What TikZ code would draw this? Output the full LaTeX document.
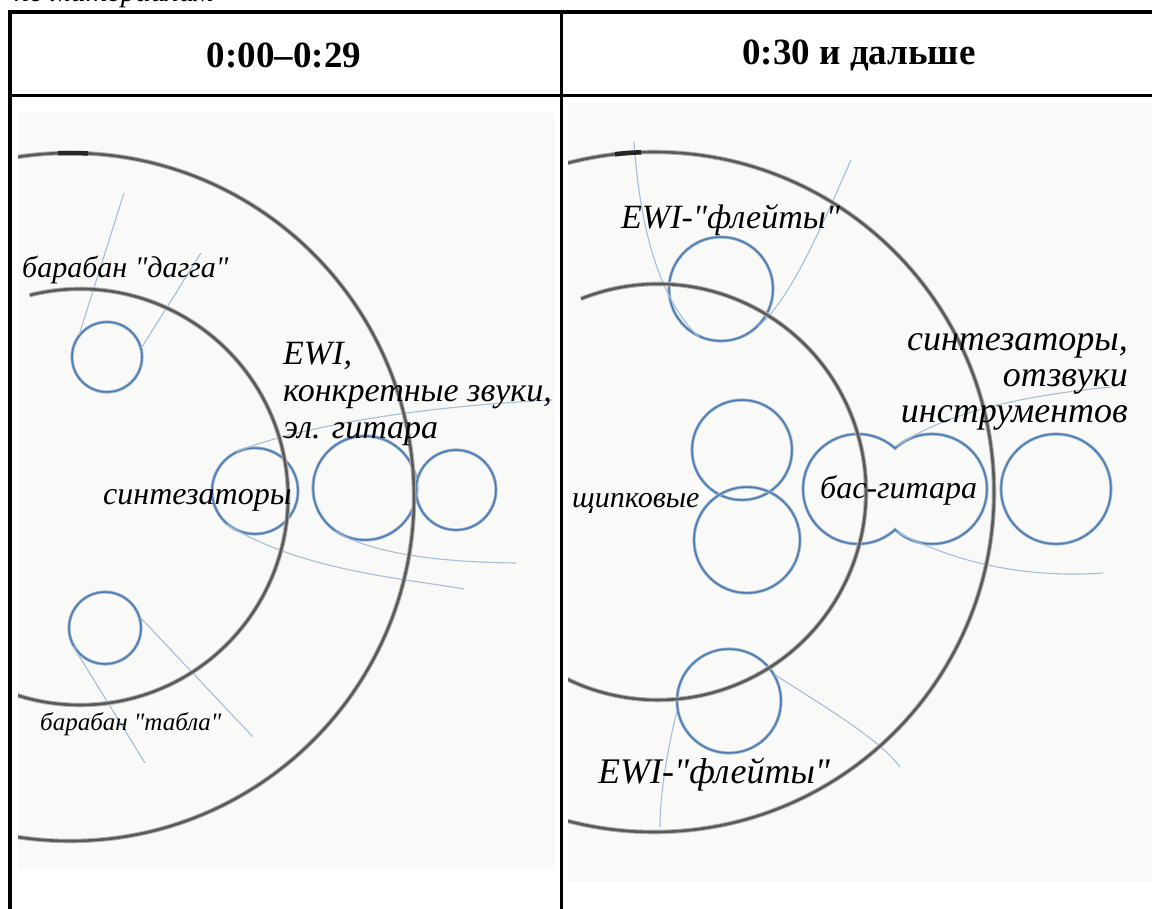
\documentclass[tikz,border=0pt]{standalone}
\usepackage{fontspec}
\setmainfont{Liberation Serif}
\newfontfamily\sketchfont{Liberation Serif}

\definecolor{paper}{RGB}{249,249,247}
\definecolor{pencil}{RGB}{78,124,176}
\definecolor{wispblue}{RGB}{165,190,220}
\definecolor{ringgray}{RGB}{90,90,90}

\begin{document}
\begin{tikzpicture}[x=1pt, y=-1pt,
        ring/.style={circle, draw=pencil, line width=1.5pt, inner sep=0pt,
            preaction={draw=pencil!55, line width=3.2pt}},
        wisp/.style={draw=wispblue, line width=1.1pt},
        orbit/.style={draw=ringgray, line width=2.6pt,
            preaction={draw=ringgray!45, line width=4.6pt}},
        head/.style={font=\bfseries\fontsize{37}{40}\selectfont, inner sep=0pt},
        tag/.style={font=\sketchfont\itshape\fontsize{33}{36}\selectfont, inner sep=0pt}]
        \useasboundingbox (0,0) rectangle (1152,909);

        % cropped caption line above the table
        \node[tag, anchor=base west, font=\sketchfont\itshape\fontsize{30}{30}\selectfont] (source) at (14,2) {по материалам};

        % table frame
        \draw[line width=4pt] (8,12) -- (1152,12);
        \draw[line width=4pt] (10,10) -- (10,909);
        \draw[line width=3.5pt] (561.5,12) -- (561.5,909);
        \draw[line width=3.5pt] (10,95.5) -- (1152,95.5);
        \node[head] (early) at (284,55) {0:00–0:29};
        \node[head] (later) at (859,55) {0:30 и дальше};

        % left sketch
        \fill[paper] (18,113) rectangle (555,870);
        \begin{scope}
            \clip (18,113) rectangle (555,870);
            \node[ring, minimum size=70pt] (dagga) at (107,357) {};
            \node[ring, minimum size=72pt] (tabla) at (105,628) {};
            \node[ring, minimum size=86pt] (synth) at (255,491) {};
            \node[ring, minimum size=104pt] (ewi) at (365,488) {};
            \node[ring, minimum size=80pt] (ewiside) at (456,490) {};

            \coordinate (w1) at (124,193);
            \coordinate (w2) at (201,253);
            \coordinate (w3) at (552,400);
            \coordinate (w4) at (464,589);
            \coordinate (w5) at (516,563);
            \coordinate (w6) at (253,737);
            \coordinate (w7) at (145,763);
            \draw[wisp] (w1) -- (dagga.141);
            \draw[wisp] (w2) -- (dagga.15);
            \draw[wisp] (synth.115) .. controls (320,420) and (450,405) .. (w3);
            \draw[wisp] (synth.-130) .. controls (300,570) and (400,578) .. (w4);
            \draw[wisp] (ewi.-125) .. controls (370,552) and (430,562) .. (w5);
            \draw[wisp] (tabla.17) -- (w6);
            \draw[wisp] (tabla.-150) -- (w7);

            \draw[orbit] (70,497) circle[radius=344];
            \draw[orbit] ([shift={(-104:208)}]80,497) arc[start angle=-104, end angle=112, radius=208];
            \draw[line width=4.5pt, black!85] ([shift={(-92:344)}]70,497) arc[start angle=-92, end angle=-87, radius=344];
        \end{scope}
        \node[tag, font=\sketchfont\itshape\fontsize{30}{30}\selectfont, anchor=base west] (daggatext) at (22,278) {барабан "дагга"};
        \node[tag, font=\sketchfont\itshape\fontsize{34}{37}\selectfont, anchor=north west, align=left] (ewitext) at (283,342) {EWI,\\конкретные звуки,\\эл. гитара};
        \node[tag, font=\sketchfont\itshape\fontsize{32}{32}\selectfont, anchor=base west] (synthtext) at (103,504) {синтезаторы};
        \node[tag, font=\sketchfont\itshape\fontsize{25}{30}\selectfont, anchor=base west] (tablatext) at (40,730) {барабан "табла"};

        % right sketch
        \fill[paper] (568,103) rectangle (1152,882);
        \begin{scope}
            \clip (568,103) rectangle (1152,882);
            \node[ring, minimum size=104pt] (fluteup) at (721,289) {};
            \node[ring, minimum size=100pt] (plucktop) at (742,450) {};
            \node[ring, minimum size=106pt] (pluckbot) at (747,540) {};
            \node[ring, minimum size=110pt] (echo) at (1056,489) {};
            \node[ring, minimum size=104pt] (flutedown) at (729,701) {};
            \begin{scope}
                \clip (790,400) rectangle (895,570);
                \node[ring, minimum size=110pt] (basslo) at (858,489) {};
            \end{scope}
            \begin{scope}
                \clip (895,400) rectangle (1000,570);
                \node[ring, minimum size=110pt] (basshi) at (932,489) {};
            \end{scope}

            \coordinate (v1) at (634,142);
            \coordinate (v2) at (851,160);
            \coordinate (v3) at (1111,387);
            \coordinate (v4) at (1103,573);
            \coordinate (v5) at (900,767);
            \coordinate (v6) at (660,827);
            \draw[wisp] (v1) .. controls (640,230) and (660,300) .. (fluteup.-115);
            \draw[wisp] (v2) .. controls (820,230) and (790,300) .. (fluteup.-45);
            \draw[wisp] (basshi.130) .. controls (950,410) and (1030,395) .. (v3);
            \draw[wisp] (basshi.-130) .. controls (960,565) and (1030,578) .. (v4);
            \draw[wisp] (flutedown.30) .. controls (830,710) and (880,740) .. (v5);
            \draw[wisp] (flutedown.190) .. controls (665,760) and (660,800) .. (v6);

            \draw[orbit] (654,492) circle[radius=340];
            \draw[orbit] ([shift={(-111.7:208)}]658,492) arc[start angle=-111.7, end angle=118, radius=208];
            \draw[line width=4.5pt, black!85] ([shift={(-96.6:340)}]654,492) arc[start angle=-96.6, end angle=-92.2, radius=340];
        \end{scope}
        \node[tag, font=\sketchfont\itshape\fontsize{34}{35}\selectfont, anchor=base west] (flutetext) at (621,229) {EWI-"флейты"};
        \node[tag, font=\sketchfont\itshape\fontsize{36}{36}\selectfont, anchor=north east, align=right] (echotext) at (1128,333) {синтезаторы,\\отзвуки\hspace*{9pt}\\инструментов};
        \node[tag, font=\sketchfont\itshape\fontsize{30}{30}\selectfont, anchor=base west] (plucktext) at (572,507) {щипковые};
        \node[tag, font=\sketchfont\itshape\fontsize{32}{32}\selectfont, anchor=base west] (basstext) at (820,498) {бас-гитара};
        \node[tag, font=\sketchfont\itshape\fontsize{36}{36}\selectfont, anchor=base west] (flutetext2) at (598,783) {EWI-"флейты"};
\end{tikzpicture}
\end{document}
